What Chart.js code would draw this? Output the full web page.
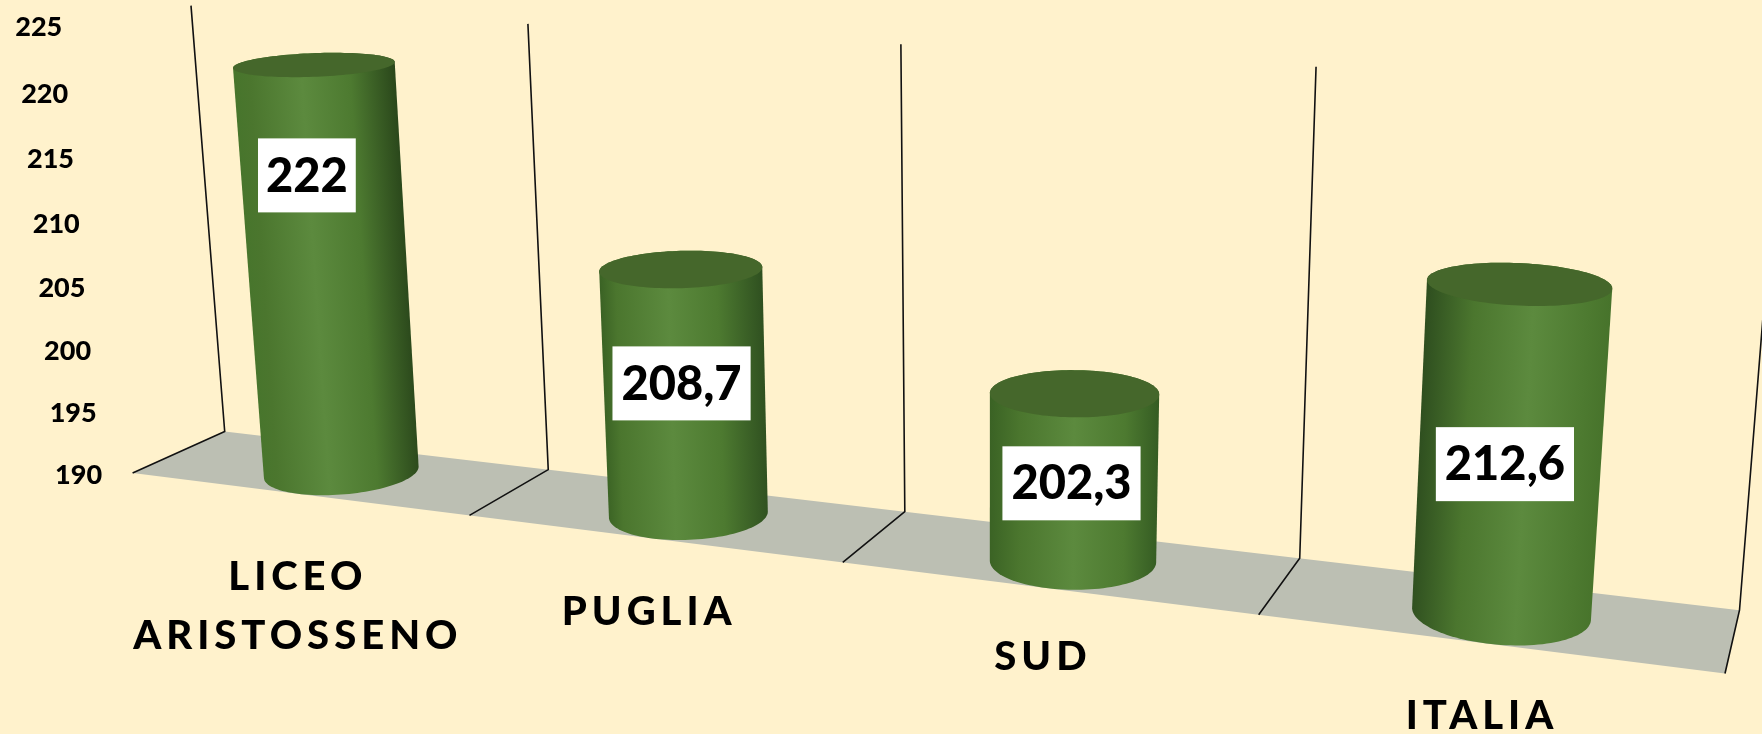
<!DOCTYPE html>
<html><head><meta charset="utf-8">
<style>html,body{margin:0;padding:0;background:#fff2cc;overflow:hidden}#wrap{position:absolute;left:0;top:0;width:1762px;height:734px}</style>
<script src="https://cdn.jsdelivr.net/npm/chart.js@4"></script>
</head><body><div id="wrap"><canvas id="c"></canvas></div>
<script>
const categories = [["LICEO","ARISTOSSENO"],["PUGLIA"],["SUD"],["ITALIA"]];
const values = [222, 208.7, 202.3, 212.6];
const axisMin = 190, axisMax = 225, axisStep = 5;

// view of the 3D box: where the corners of the back wall and of the floor front edge land
const wallQuad = [[224.7,431.5],[1739.5,610.2],[1781,92],[191,5.6]];
const floorFront = [[132.6,473],[1725,674]];
// label placement
const labelFrac = [.73,.536,.46,.457], labelDx = [-14,-2,-1,-3], labelDy = [1,1,0,2];
const catDx = [1,-2,-2,-3], catDy = [113,74,69,73];
const highlight = [.42,.42,.5,.58];
const edgeL = ['#47752c','#3a6224','#3a6224','#2e4e1f'];
const edgeR = ['#2a471b','#2f5020','#355c23','#47732b'];
const barShift = .0007;

function makeCamera(Q,F){
  const [[x0,y0],[x1,y1],[x2,y2],[x3,y3]]=Q;
  const dx1=x1-x2,dx2=x3-x2,sx=x0-x1+x2-x3,dy1=y1-y2,dy2=y3-y2,sy=y0-y1+y2-y3;
  const D=dx1*dy2-dx2*dy1;
  const g=(sx*dy2-dx2*sy)/D,h=(dx1*sy-sx*dy1)/D;
  const a=x1-x0+g*x1,b=x3-x0+h*x3,c=x0,d=y1-y0+g*y1,e=y3-y0+h*y3,f=y0;
  const R=(a-F[1][0]*g)/(F[1][0]-F[0][0]);
  const p=F[0][0]*R-c,q=F[0][1]*R-f,r=R-1;
  return (s,w,t)=>{const z=g*s+h*t+1+r*w;return [(a*s+b*t+c+p*w)/z,(d*s+e*t+f+q*w)/z];};
}
const cam = makeCamera(wallQuad,floorFront);

const box3d = {
  id:'box3d',
  beforeDatasetsDraw(chart){
    const {ctx,chartArea:A,scales:{x,y}}=chart;
    const S=px=>(px-A.left)/A.width, T=py=>(A.bottom-py)/A.height;
    const n=categories.length, cw=A.width/n;
    ctx.save();
    // floor
    const fl=[cam(0,0,0),cam(1,0,0),cam(1,1,0),cam(0,1,0)];
    ctx.fillStyle='#bcbfb3';ctx.beginPath();fl.forEach((p,i)=>i?ctx.lineTo(p[0],p[1]):ctx.moveTo(p[0],p[1]));ctx.closePath();ctx.fill();
    // grid lines at category boundaries
    ctx.strokeStyle='#111';ctx.lineWidth=1.6;
    for(let i=0;i<=n;i++){
      const s=S(x.getPixelForValue(0)-cw/2+i*cw);
      const a=cam(s,1,0),b=cam(s,0,0),c=cam(s,0,1);
      ctx.beginPath();ctx.moveTo(a[0],a[1]);ctx.lineTo(b[0],b[1]);ctx.lineTo(c[0],c[1]);ctx.stroke();
    }
    // value axis labels
    ctx.fillStyle='#000';ctx.font='900 27px Lato';ctx.textAlign='center';ctx.textBaseline='middle';
    y.ticks.forEach(tk=>{
      const p=cam(0,1,T(y.getPixelForValue(tk.value)));
      ctx.fillText(String(tk.value),p[0]-54,p[1]+2);
    });
    // category labels
    ctx.font='900 40px Lato';ctx.letterSpacing='5px';
    categories.forEach((lines,i)=>{
      const p=cam(S(x.getPixelForValue(i)),1,0);
      const lh=59;
      lines.forEach((l,k)=>ctx.fillText(l,p[0]+catDx[i],p[1]+catDy[i]+(k-(lines.length-1)/2)*lh));
    });
    ctx.letterSpacing='0px';
    ctx.restore();
  },
  beforeDatasetDraw(chart,args){
    const {ctx,chartArea:A}=chart;
    const S=px=>(px-A.left)/A.width, T=py=>(A.bottom-py)/A.height;
    const pts=chart.getDatasetMeta(args.index).data;
    pts.forEach((el,i)=>{
      const sc=S(el.x)+barShift,rs=el.width/2/A.width,tTop=T(el.y),tBase=T(el.base),w0=.5,rw=.5;
      const N=120;
      const ring=t=>{const o=[];for(let k=0;k<N;k++){const a=k/N*2*Math.PI;o.push(cam(sc+rs*Math.cos(a),w0+rw*Math.sin(a),t));}return o;};
      const top=ring(tTop),bot=ring(tBase);
      const tc=cam(sc,w0,tTop),bc=cam(sc,w0,tBase);
      let ax=tc[0]-bc[0],ay=tc[1]-bc[1],L=Math.hypot(ax,ay);ax/=L;ay/=L;
      const nx=-ay,ny=ax; // perpendicular, pointing right
      const ext=r=>{let lo=0,hi=0,a=1e9,b=-1e9;r.forEach((p,k)=>{const d=p[0]*nx+p[1]*ny;if(d<a){a=d;lo=k;}if(d>b){b=d;hi=k;}});return[lo,hi,a,b];};
      const [tl,tr]=ext(top),[bl,br,bA,bB]=ext(bot);
      const path=[];
      for(let k=tl;;k=(k+1)%N){path.push(top[k]);if(k===tr)break;}
      for(let k=br;;k=(k+1)%N){path.push(bot[k]);if(k===bl)break;}
      const eT=ext(top),lo=Math.min(eT[2],bA),hi=Math.max(eT[3],bB);
      const mx=(tc[0]+bc[0])/2,my=(tc[1]+bc[1])/2,md=mx*nx+my*ny;
      const g=ctx.createLinearGradient(mx+nx*(lo-md),my+ny*(lo-md),mx+nx*(hi-md),my+ny*(hi-md));
      const h=highlight[i];
      g.addColorStop(0,edgeL[i]);g.addColorStop(Math.max(.03,h-.32),'#4b762e');g.addColorStop(h,'#5c8a3e');
      g.addColorStop(Math.min(.97,h+.3),'#4d7a30');g.addColorStop(1,edgeR[i]);
      ctx.save();ctx.fillStyle=g;ctx.beginPath();path.forEach((p,k)=>k?ctx.lineTo(p[0],p[1]):ctx.moveTo(p[0],p[1]));ctx.closePath();ctx.fill();
      ctx.fillStyle='#45672b';ctx.beginPath();top.forEach((p,k)=>k?ctx.lineTo(p[0],p[1]):ctx.moveTo(p[0],p[1]));ctx.closePath();ctx.fill();
      ctx.restore();
    });
    return false;
  },
  afterDatasetsDraw(chart){
    const {ctx,chartArea:A}=chart;
    const S=px=>(px-A.left)/A.width, T=py=>(A.bottom-py)/A.height;
    chart.getDatasetMeta(0).data.forEach((el,i)=>{
      const sc=S(el.x),t0=T(el.base),t1=T(el.y);
      const a=cam(sc,.5,t0),b=cam(sc,.5,t1),f=labelFrac[i];
      const cx=a[0]+(b[0]-a[0])*f+labelDx[i],cy=a[1]+(b[1]-a[1])*f+labelDy[i];
      const txt=String(values[i]).replace('.',',');
      ctx.save();ctx.font='900 47px Lato';ctx.textAlign='center';ctx.textBaseline='middle';
      const tw=ctx.measureText(txt).width+(i===0?16:18),bh=74;
      ctx.fillStyle='#fff';ctx.fillRect(cx-tw/2,cy-bh/2,tw,bh);
      ctx.fillStyle='#000';ctx.fillText(txt,cx,cy+1);
      ctx.restore();
    });
  }
};

new Chart(document.getElementById('c'),{
  type:'bar',
  data:{labels:categories,datasets:[{data:values,base:axisMin,backgroundColor:'#5c8a3e',categoryPercentage:1,barPercentage:.39}]},
  options:{responsive:true,maintainAspectRatio:false,animation:false,
    layout:{padding:0},
    plugins:{legend:{display:false},tooltip:{enabled:false}},
    scales:{
      x:{display:false},
      y:{display:false,min:axisMin,max:axisMax,ticks:{stepSize:axisStep}}
    }},
  plugins:[box3d]
});
</script></body></html>
